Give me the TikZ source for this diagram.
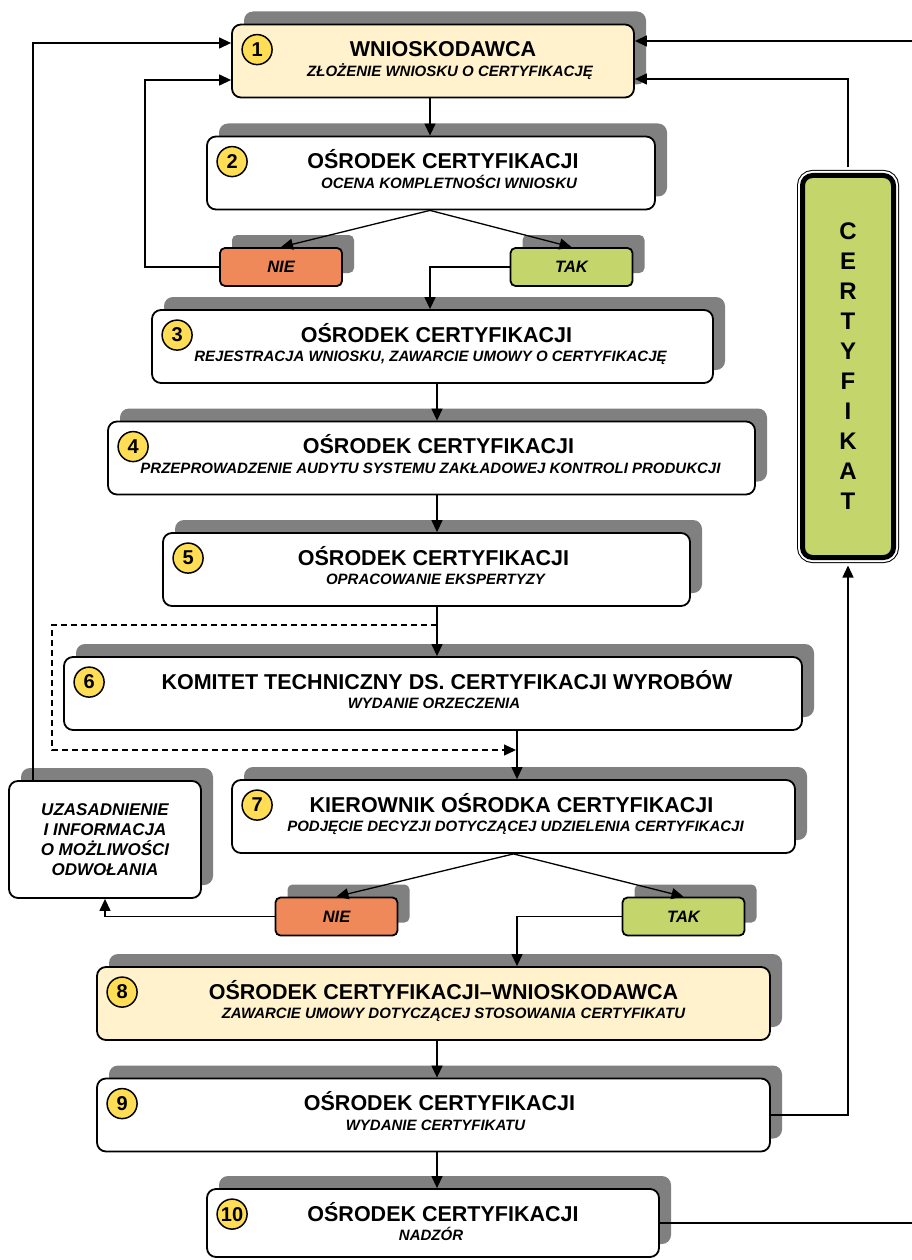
\documentclass[tikz,border=0pt]{standalone}
\usepackage{fontspec}
\setmainfont{Liberation Sans}
\usepackage{xcolor}
\usepackage{tikz}
\usetikzlibrary{arrows.meta, shadows, positioning}

\definecolor{jasny}{HTML}{FFF2CC}
\definecolor{pomar}{HTML}{F0895A}
\definecolor{ziel}{HTML}{C3D56B}
\definecolor{zolty}{HTML}{FFDD55}
\definecolor{cien}{HTML}{808080}

\tikzset{
  krok/.style={draw, line width=1.8pt, rounded corners=9pt, fill=white, inner sep=0pt,
    minimum height=73pt,
    drop shadow={shadow xshift=12pt, shadow yshift=13pt, fill=cien, opacity=1}},
  wybor/.style={krok, rounded corners=5pt, minimum width=122pt, minimum height=38pt,
    font=\fontsize{16.5}{18}\selectfont\bfseries\itshape},
  nr/.style={circle, draw, line width=1.5pt, fill=zolty, minimum size=30pt, inner sep=0pt,
    font=\fontsize{20}{20}\selectfont\bfseries},
  tytul/.style={anchor=base, inner sep=0pt, font=\fontsize{21.5}{24}\selectfont\bfseries},
  opis/.style={anchor=base, inner sep=0pt, font=\fontsize{15}{18}\selectfont\bfseries\itshape},
  certyf/.style={draw, line width=5pt, fill=ziel, rounded corners=10pt,
    minimum width=91pt, minimum height=382pt, align=center,
    font=\fontsize{24}{30}\selectfont\bfseries,
    preaction={draw=black, line width=11pt}, preaction={draw=white, line width=9pt}},
  linia/.style={line width=1.3pt},
  strz/.style={linia, ->}
}

% etap: nazwa, srodek, szerokosc, opcje, numer, przesuniecie tytulu, tytul, przesuniecie opisu, opis
\newcommand{\etap}[9]{%
  \node[krok, minimum width=#3pt, #4] (#1) at (#2) {};
  \node[nr] (#1nr) at ([xshift=26pt,yshift=-26pt]#1.north west) {#5};
  \node[tytul] (#1t) at ([xshift=#6pt,yshift=-33pt]#1.north) {#7};
  \node[opis] (#1o) at ([xshift=#8pt,yshift=-52.5pt]#1.north) {#9};
}

\begin{document}
\begin{tikzpicture}[x=1pt, y=-1pt, >={Triangle[length=12pt,width=11pt]}]
    \useasboundingbox (0,0) rectangle (912,1260);

    % Etapy procedury certyfikacji
    \etap{b1}{433,61}{402}{fill=jasny}{1}{10}{WNIOSKODAWCA}{17}{ZŁOŻENIE WNIOSKU O CERTYFIKACJĘ}
    \etap{b2}{431,173}{448}{}{2}{12}{OŚRODEK CERTYFIKACJI}{18}{OCENA KOMPLETNOŚCI WNIOSKU}
    \etap{b3}{432.5,346.5}{561}{}{3}{4}{OŚRODEK CERTYFIKACJI}{-2}{REJESTRACJA WNIOSKU, ZAWARCIE UMOWY O CERTYFIKACJĘ}
    \etap{b4}{431.5,458}{647}{}{4}{7}{OŚRODEK CERTYFIKACJI}{-1}{PRZEPROWADZENIE AUDYTU SYSTEMU ZAKŁADOWEJ KONTROLI PRODUKCJI}
    \etap{b5}{426.5,569.5}{527}{}{5}{7}{OŚRODEK CERTYFIKACJI}{9}{OPRACOWANIE EKSPERTYZY}
    \etap{b6}{433,693.5}{738}{}{6}{14}{KOMITET TECHNICZNY DS. CERTYFIKACJI WYROBÓW}{1}{WYDANIE ORZECZENIA}
    \etap{b7}{513.5,816.5}{563}{}{7}{-2}{KIEROWNIK OŚRODKA CERTYFIKACJI}{2}{PODJĘCIE DECYZJI DOTYCZĄCEJ UDZIELENIA CERTYFIKACJI}
    \etap{b8}{433.5,1003.5}{673}{fill=jasny}{8}{10}{OŚRODEK CERTYFIKACJI–WNIOSKODAWCA}{20}{ZAWARCIE UMOWY DOTYCZĄCEJ STOSOWANIA CERTYFIKATU}
    \etap{b9}{433.5,1115}{673}{}{9}{6}{OŚRODEK CERTYFIKACJI}{2}{WYDANIE CERTYFIKATU}
    \etap{b10}{433,1223}{452}{minimum height=68pt}{10}{10}{OŚRODEK CERTYFIKACJI}{-2}{NADZÓR}

    % Decyzje
    \node[wybor, fill=pomar] (n1) at (281,267) {NIE};
    \node[wybor, fill=ziel] (t1) at (571.5,267) {TAK};
    \node[wybor, fill=pomar] (n2) at (336.5,916.5) {NIE};
    \node[wybor, fill=ziel] (t2) at (683.5,916.5) {TAK};

    % Odmowa
    \node[krok, minimum width=192pt, minimum height=117pt, align=center,
      font=\fontsize{17}{20}\selectfont\bfseries\itshape] (uz) at (105,839.5)
      {UZASADNIENIE\\I INFORMACJA\\O MOŻLIWOŚCI\\ODWOŁANIA};

    % Certyfikat
    \node[certyf] (cert) at (848,366.5) {C\\E\\R\\T\\Y\\F\\I\\K\\A\\T};

    % Osie polaczen
    \coordinate (osA) at (430,0);
    \coordinate (osB) at (437,0);
    \coordinate (osC) at (517,0);
    \coordinate (torL) at (145,0);
    \coordinate (torLL) at (33,0);
    \coordinate (prawy) at (912,0);
    \coordinate (we1) at (912,41);
    \coordinate (rozw) at (437,625);
    \coordinate (d1) at (52,625);
    \coordinate (d2) at (52,750);
    \coordinate (d3) at (516,750);

    % Polaczenia
    \draw[strz] (b1.south -| osA) -- (b2.north -| osA);
    \draw[strz] (b2.south -| osA) -- (n1.north);
    \draw[strz] (b2.south -| osA) -- (t1.north);
    \draw[strz] (n1.west) -- (n1.west -| torL) |- ([yshift=-19pt]b1.west);
    \draw[strz] (t1.west) -| (b3.north -| osA);
    \draw[strz] (b3.south -| osB) -- (b4.north -| osB);
    \draw[strz] (b4.south -| osB) -- (b5.north -| osB);
    \draw[strz] (b5.south -| osB) -- (b6.north -| osB);
    \draw[linia, dash pattern=on 6pt off 4pt, ->] (rozw) -- (d1) -- (d2) -- (d3);
    \draw[strz] (b6.south -| osC) -- (b7.north -| osC);
    \draw[strz] (b7.south) -- (n2.north);
    \draw[strz] (b7.south) -- (t2.north);
    \draw[strz] (n2.west) -| (uz.south);
    \draw[strz] (uz.north -| torLL) |- ([yshift=18pt]b1.west);
    \draw[strz] (t2.west) -| (b8.north -| osC);
    \draw[strz] (b8.south -| osB) -- (b9.north -| osB);
    \draw[strz] (b9.south -| osB) -- (b10.north -| osB);
    \draw[strz] (b9.east) -| ([yshift=-5.5pt]cert.south);
    \draw[strz] ([yshift=5.5pt]cert.north) |- ([yshift=-18pt]b1.east);
    \draw[strz] (we1) -- (we1 -| b1.east);
    \draw[linia] (b10.east) -- (b10.east -| prawy);
\end{tikzpicture}
\end{document}
